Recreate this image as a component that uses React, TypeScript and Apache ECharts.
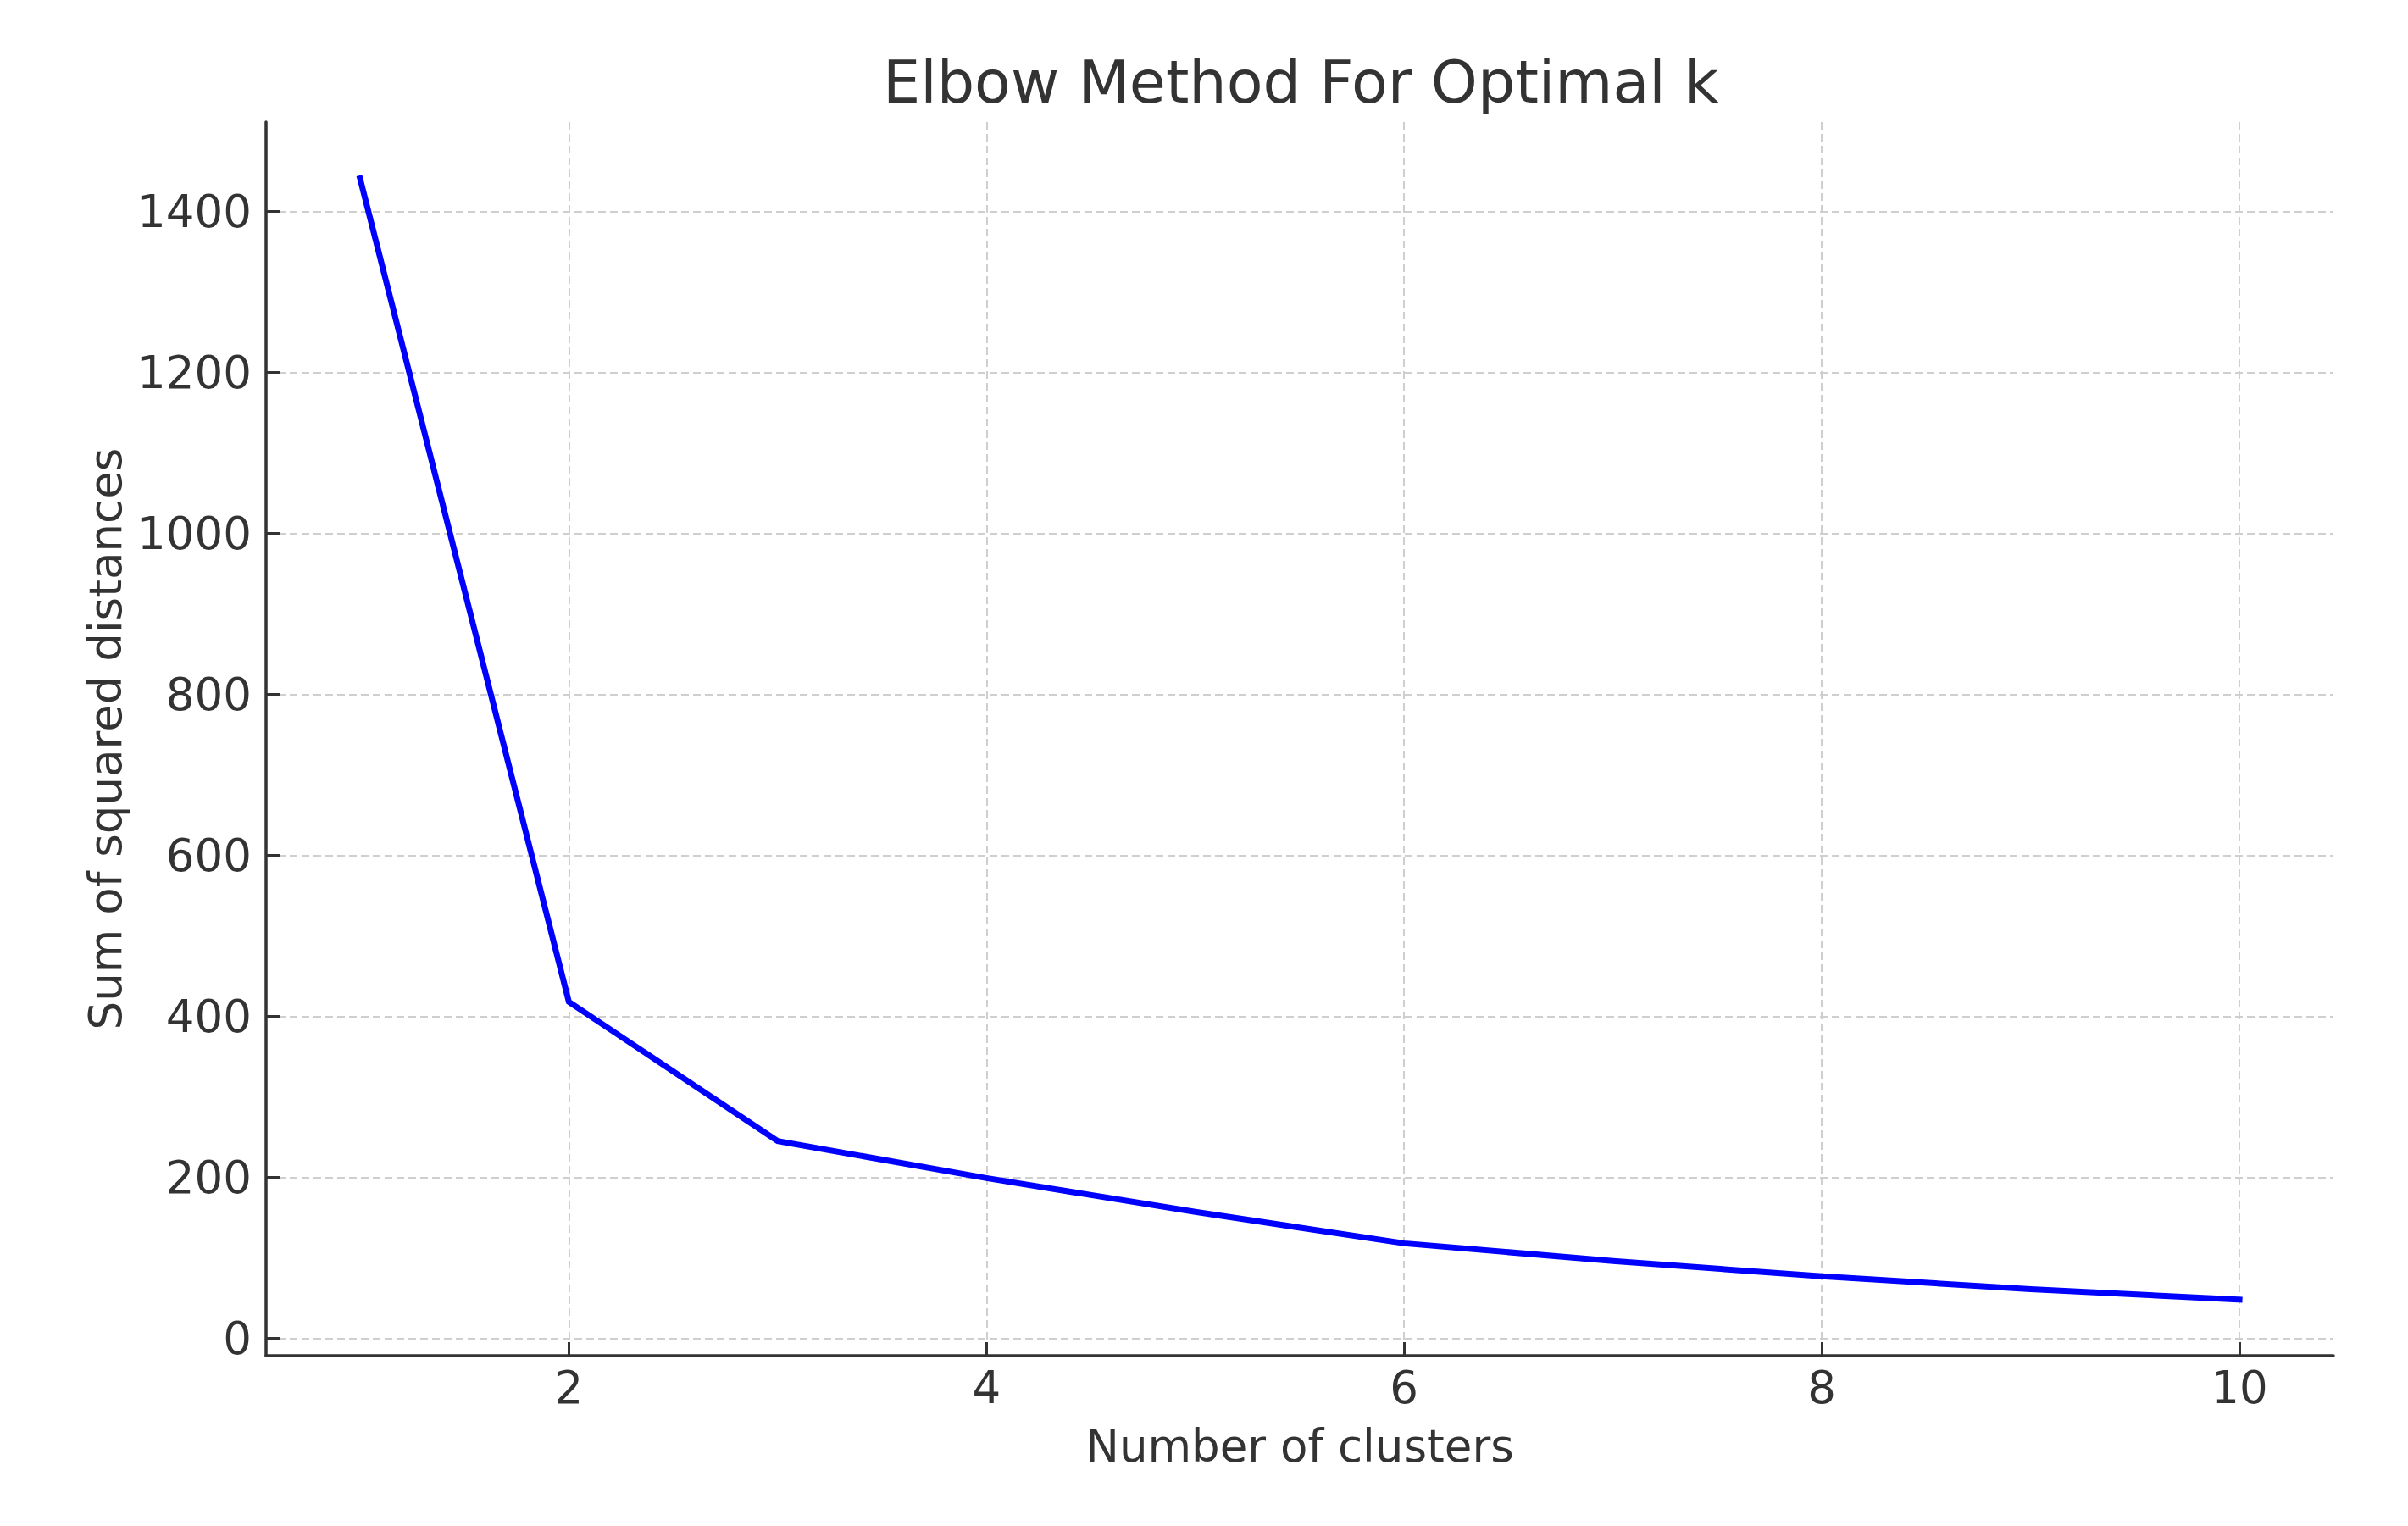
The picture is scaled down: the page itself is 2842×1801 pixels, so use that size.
import React, { useEffect, useRef } from "react";
import * as echarts from "echarts";

const clusters = [1, 2, 3, 4, 5, 6, 7, 8, 9, 10];
const sse = [1441, 418, 245, 199, 157, 118, 96, 77, 61, 48];
const xTicks = [2, 4, 6, 8, 10];
const yTicks = [0, 200, 400, 600, 800, 1000, 1200, 1400];

const FONT = "DejaVu Sans";
const TEXT = "#333333";
const AXIS = "#333333";

export default function App() {
  const ref = useRef<HTMLDivElement>(null);
  useEffect(() => {
    if (!ref.current) return;
    const chart = echarts.init(ref.current, null, { renderer: "svg" });
    const data = clusters.map((k, i) => [k, sse[i]]);
    const grid = { left: 314, right: 88, top: 144, bottom: 201 };
    chart.setOption({
      animation: false,
      backgroundColor: "#ffffff",
      title: {
        text: "Elbow Method For Optimal k",
        left: 1037,
        top: 57,
        textStyle: { fontFamily: FONT, fontSize: 70, fontWeight: "normal", color: TEXT },
      },
      grid,
      xAxis: {
        type: "value",
        min: 0.55,
        max: 10.45,
        name: "Number of clusters",
        nameLocation: "middle",
        nameGap: 80,
        nameTextStyle: { fontFamily: FONT, fontSize: 53, color: TEXT },
        axisLine: { show: true, onZero: false, lineStyle: { color: AXIS, width: 3.5 } },
        axisTick: { show: true, inside: true, length: 16, customValues: xTicks, lineStyle: { color: AXIS, width: 3 } },
        axisLabel: {
          customValues: xTicks,
          margin: 11,
          fontFamily: FONT,
          fontSize: 53,
          color: TEXT,
          formatter: (v: number) => String(v),
        },
        splitLine: { show: true, lineStyle: { color: "#cfcfcf", width: 2, type: [9, 5] } },
      },
      yAxis: {
        type: "value",
        min: -21.6,
        max: 1511,
        name: "Sum of squared distances",
        nameLocation: "middle",
        nameGap: 161,
        nameTextStyle: { fontFamily: FONT, fontSize: 53, color: TEXT },
        axisLine: { show: true, onZero: false, lineStyle: { color: AXIS, width: 3.5 } },
        axisTick: { show: true, inside: true, length: 16, customValues: yTicks, lineStyle: { color: AXIS, width: 3 } },
        axisLabel: {
          customValues: yTicks,
          margin: 17,
          fontFamily: FONT,
          fontSize: 53,
          color: TEXT,
          formatter: (v: number) => String(v),
        },
        splitLine: { show: true, lineStyle: { color: "#cfcfcf", width: 2, type: [9, 5] } },
      },
      series: [
        {
          type: "line",
          data,
          showSymbol: false,
          symbol: "none",
          lineStyle: { color: "#0000ff", width: 7, cap: "square", join: "miter" },
          z: 5,
        },
      ],
    });
    return () => chart.dispose();
  }, []);
  return (
    <div
      ref={ref}
      style={{ position: "absolute", left: 0, top: 0, width: 2842, height: 1801, background: "#fff" }}
    />
  );
}
